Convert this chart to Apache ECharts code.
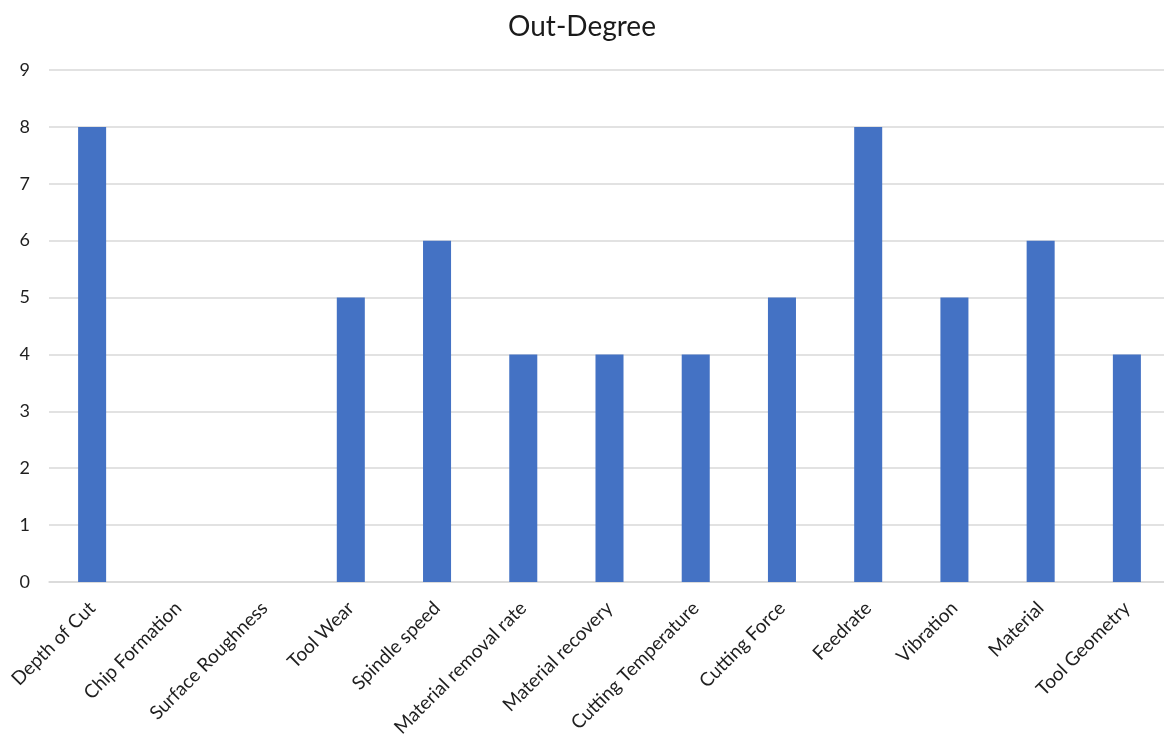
<!DOCTYPE html>
<html>
<head>
<meta charset="utf-8">
<script src="https://cdn.jsdelivr.net/npm/echarts@6/dist/echarts.min.js"></script>
<style>
  html, body { margin: 0; padding: 0; background: #ffffff; }
  #chart { width: 1164px; height: 740px; }
</style>
</head>
<body>
<div id="chart"></div>
<script>
// Out-degree of each node in the machining factor graph
const categories = [
  'Depth of Cut', 'Chip Formation', 'Surface Roughness', 'Tool Wear',
  'Spindle speed', 'Material removal rate', 'Material recovery',
  'Cutting Temperature', 'Cutting Force', 'Feedrate', 'Vibration',
  'Material', 'Tool Geometry'
];
const outDegree = [8, 0, 0, 5, 6, 4, 4, 4, 5, 8, 5, 6, 4];
const yTicks = { min: 0, max: 9, interval: 1 };

const chart = echarts.init(document.getElementById('chart'));
const font = 'Lato, "Open Sans", sans-serif';

chart.setOption({
  animation: false,
  backgroundColor: '#ffffff',
  title: {
    text: 'Out-Degree',
    left: 'center',
    top: 8,
    textStyle: { fontFamily: font, fontSize: 28, fontWeight: 'normal', color: '#1a1a1a' }
  },
  grid: {
    left: 49, right: -6, top: 70, bottom: 158,
    containLabel: false,
    outerBoundsMode: 'none'
  },
  xAxis: {
    type: 'category',
    data: categories,
    axisLine: { show: true, lineStyle: { color: '#d9d9d9', width: 1.5 } },
    axisTick: { show: false },
    axisLabel: {
      interval: 0,
      rotate: 45,
      margin: 23,
      fontFamily: font,
      fontSize: 19,
      color: '#1f1f1f'
    }
  },
  yAxis: {
    type: 'value',
    min: yTicks.min,
    max: yTicks.max,
    interval: yTicks.interval,
    axisLine: { show: false },
    axisTick: { show: false },
    splitLine: { lineStyle: { color: '#d9d9d9', width: 1.5 } },
    axisLabel: { fontFamily: font, fontSize: 18, color: '#1f1f1f', margin: 19 }
  },
  series: [{
    type: 'bar',
    data: outDegree,
    barWidth: '32.5%',
    itemStyle: { color: '#4472c4' }
  }]
});
</script>
</body>
</html>
